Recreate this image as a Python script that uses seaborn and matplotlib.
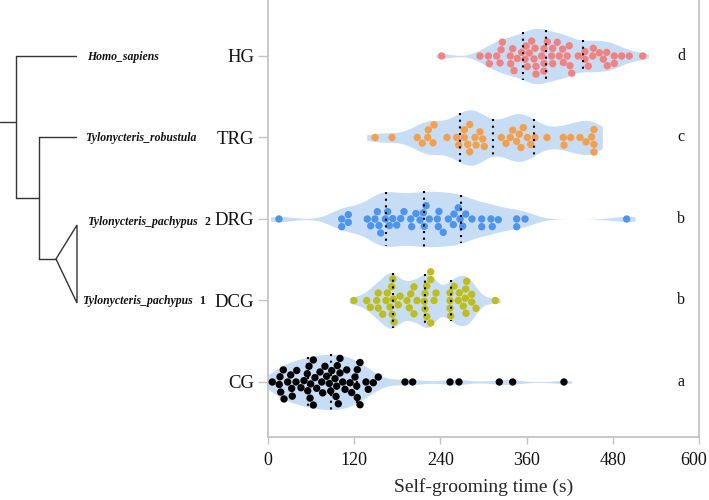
import numpy as np
import pandas as pd
import matplotlib
matplotlib.use("Agg")
import matplotlib.pyplot as plt
import matplotlib.transforms as mtransforms
import seaborn as sns
from matplotlib.lines import Line2D
from matplotlib.patches import Polygon

# ---------------- data ----------------
groups = ["HG", "TRG", "DRG", "DCG", "CG"]
letters = ["d", "c", "b", "b", "a"]
xticks = [0, 120, 240, 360, 480, 600]

hg = [241.8, 295.1, 306.7, 308.1, 318.4, 323.0, 324.4, 326.2, 337.3, 337.9,
      340.6, 342.5, 347.0, 353.2, 357.8, 359.2, 361.0, 363.7, 367.1, 370.3,
      371.7, 373.1, 373.1, 381.0, 384.2, 384.2, 384.2, 388.8, 394.9, 396.3,
      396.3, 402.7, 405.5, 410.2, 411.1, 416.6, 419.4, 420.4, 422.8, 432.0,
      441.3, 441.3, 445.9, 452.0, 452.8, 461.2, 466.8, 471.5, 472.3, 482.1,
      482.1, 492.4, 503.0, 521.6]
trg = [149.0, 172.6, 207.8, 214.8, 222.3, 223.2, 229.7, 231.1, 249.2, 262.7,
       265.5, 273.3, 273.3, 278.0, 280.8, 280.8, 288.2, 289.6, 295.1, 298.9,
       301.1, 324.8, 331.3, 337.3, 340.6, 346.2, 349.8, 352.2, 355.4, 361.0,
       365.7, 371.7, 388.4, 411.1, 412.1, 421.4, 434.3, 442.7, 450.6, 453.8,
       453.8, 453.8]
drg = [15.3, 102.6, 102.6, 111.8, 111.8, 138.2, 143.0, 148.9, 152.2, 154.5,
       156.9, 163.3, 166.6, 168.9, 173.6, 179.2, 184.7, 189.3, 198.7, 200.0,
       206.0, 211.6, 216.2, 217.6, 220.0, 224.5, 235.7, 237.1, 238.0, 244.0,
       251.0, 258.0, 258.9, 264.9, 267.3, 271.0, 275.2, 284.0, 297.5, 297.5,
       310.4, 312.2, 320.6, 346.2, 346.2, 357.8, 499.3]
dcg = [119.7, 137.4, 142.4, 151.3, 153.5, 153.5, 159.7, 164.3, 166.1, 169.8,
       172.2, 173.0, 173.6, 174.4, 175.4, 181.4, 183.8, 193.5, 196.7, 198.7,
       203.2, 203.2, 207.4, 217.6, 218.6, 218.6, 220.9, 220.9, 226.5, 226.5,
       226.5, 231.1, 233.9, 253.4, 253.4, 253.4, 254.3, 258.9, 264.9, 266.3,
       271.9, 274.7, 275.2, 275.6, 276.6, 283.6, 283.6, 289.6, 316.4]
cg = [6.0, 15.7, 16.7, 17.7, 21.3, 22.3, 27.4, 31.6, 33.0, 33.8,
      39.0, 40.0, 45.9, 50.1, 54.7, 55.3, 57.1, 58.5, 59.4, 63.1,
      63.1, 65.4, 67.8, 72.4, 74.8, 76.1, 79.3, 81.7, 85.3, 87.3,
      88.7, 93.3, 94.7, 95.6, 96.5, 97.9, 100.2, 100.2, 104.0, 107.2,
      109.6, 114.2, 116.5, 121.1, 123.5, 124.3, 124.3, 128.1, 128.1, 136.4,
      139.6, 146.6, 153.5, 190.7, 201.4, 253.4, 265.9, 322.0, 340.6, 412.0]

species_labels = ["Homo_sapiens", "Tylonycteris_robustula",
                  "Tylonycteris_pachypus", "Tylonycteris_pachypus"]
species_suffix = ["", "", "2", "1"]

point_colors = {"HG": "#F08282", "TRG": "#F2A04E", "DRG": "#4D94EA",
                "DCG": "#BDBD1C", "CG": "#000000"}
violin_color = "#C7DCF5"

values = {"HG": hg, "TRG": trg, "DRG": drg, "DCG": dcg, "CG": cg}
df = pd.DataFrame([(g, v) for g in groups for v in values[g]],
                  columns=["group", "time"])

# ---------------- style ----------------
sns.set_theme(style="white")
plt.rcParams['font.family'] = ['Liberation Serif', 'DejaVu Serif']

W, H = 709, 500
fig = plt.figure(figsize=(W / 100, H / 100), dpi=100)
ax = fig.add_axes([268 / W, 1 - 437 / H, (699 - 268) / W, 437 / H])

sns.violinplot(data=df, x="time", y="group", order=groups, orient="h",
               color=violin_color, saturation=1, inner="quart",
               density_norm="width", width=0.68, bw_adjust=0.5, cut=0.6,
               linewidth=0, ax=ax)
for ln in ax.lines:
    ln.set_color("black")
    ln.set_linewidth(1.5)
    ln.set_linestyle((0, (1, 2.2)))
    ln.set_zorder(5)

sns.swarmplot(data=df, x="time", y="group", order=groups, hue="group",
              palette=point_colors, size=5.3, orient="h", legend=False,
              linewidth=0, ax=ax)

ax.set_xlim(0, 600)
ax.set_xticks(xticks)
ax.set_xticklabels([str(t) for t in xticks])
ax.set_ylim(4.675, -0.687)
ax.set_xlabel("Self-grooming time (s)", fontsize=14, labelpad=6)
ax.set_ylabel("")
for s in ["left", "bottom", "right"]:
    ax.spines[s].set_color("#C4C4C4")
    ax.spines[s].set_linewidth(1.3)
ax.spines["top"].set_visible(False)
ax.tick_params(axis="x", bottom=True, length=5, width=1, color="#C4C4C4",
               labelsize=13, pad=6, labelcolor="#111111")
ax.tick_params(axis="y", left=True, length=7, width=1, color="#C4C4C4",
               labelsize=13.5, pad=3, labelcolor="#111111")
# keep the last tick label inside the figure, as in the reference
last = ax.get_xticklabels()[-1]
last.set_transform(last.get_transform() +
                   mtransforms.ScaledTranslation(-5 / 100, 0, fig.dpi_scale_trans))

for i, lt in enumerate(letters):
    ax.text(575, i, lt, ha="center", va="center", fontsize=11.5, color="#111111")

# ---------------- phylogenetic tree (figure pixel coordinates) ----------------
def fp(x, y):
    return (x / W, 1 - y / H)

segs = [[(0, 122), (16, 122)], [(16, 56), (16, 198)], [(16, 56), (76, 56)],
        [(16, 198), (39, 198)], [(39, 137), (39, 259)], [(39, 137), (76, 137)],
        [(39, 259), (56, 259)]]
for (a, b) in segs:
    p, q = fp(*a), fp(*b)
    fig.add_artist(Line2D([p[0], q[0]], [p[1], q[1]], transform=fig.transFigure,
                          color="#333333", lw=1.0))
tri = Polygon([fp(56, 259), fp(77, 225), fp(77, 303)], closed=True, fill=False,
              edgecolor="#333333", lw=1.0, transform=fig.transFigure)
fig.add_artist(tri)

label_pos = [(87, 57), (85, 138), (87, 222), (82, 301)]
suffix_x = [None, None, 207, 202]
for lab, suf, (x, y), sx in zip(species_labels, species_suffix, label_pos, suffix_x):
    fig.text(*fp(x, y), lab, fontsize=8.5, fontstyle="italic", fontweight="bold",
             ha="left", va="center", color="#111111")
    if suf:
        fig.text(*fp(sx, y), suf, fontsize=8.5, fontweight="bold",
                 ha="center", va="center", color="#111111")

fig.savefig("out.png", dpi=100, facecolor="white")
